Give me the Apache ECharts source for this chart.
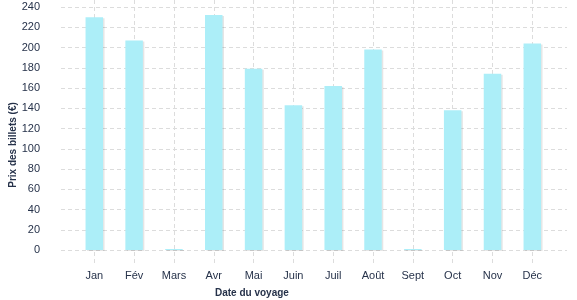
<!DOCTYPE html>
<html><head><meta charset="utf-8">
<script src="https://cdn.jsdelivr.net/npm/echarts@6/dist/echarts.min.js"></script>
<style>html,body{margin:0;padding:0;background:#fff}#c{width:577px;height:300px}</style>
</head><body><div id="c"></div>
<script>
const categories = ['Jan','Fév','Mars','Avr','Mai','Juin','Juil','Août','Sept','Oct','Nov','Déc'];
const prices = [230, 207, 1, 232, 179, 143, 162, 198, 1, 138, 174, 204];
const yTicks = [0, 240, 20]; // min, max, interval
const xTitle = 'Date du voyage';
const yTitle = 'Prix des billets (€)';

const font = 'Liberation Sans, Arial, sans-serif';
const textColor = '#26324a';
const gridColor = '#dcdcdc';
// pixel scale shared by both grids: 243px for 240 units
const pxPerUnit = 243 / 240;
const chart = echarts.init(document.getElementById('c'));
chart.setOption({
  animation: false,
  grid: [
    {left: 61, right: 10, top: 7, bottom: 50},
    {left: 94.3, width: 438, top: 0, bottom: 35}
  ],
  xAxis: [
    {gridIndex: 0, type: 'category', data: [], show: false},
    {gridIndex: 1, type: 'category', data: categories, boundaryGap: false,
     axisLine: {show: false}, axisTick: {show: false},
     axisLabel: {color: textColor, fontFamily: font, fontSize: 11, margin: 5},
     splitLine: {show: true, lineStyle: {color: gridColor, type: [4, 3], width: 1}}}
  ],
  yAxis: [
    {gridIndex: 0, type: 'value', min: yTicks[0], max: yTicks[1], interval: yTicks[2],
     axisLine: {show: false}, axisTick: {show: false},
     axisLabel: {color: textColor, fontFamily: font, fontSize: 11, margin: 21},
     splitLine: {show: true, lineStyle: {color: gridColor, type: [4, 3], width: 1}}},
    {gridIndex: 1, type: 'value', min: -15 / pxPerUnit, max: 250 / pxPerUnit, show: false,
     splitLine: {show: false}}
  ],
  series: [{
    type: 'bar', xAxisIndex: 1, yAxisIndex: 1, data: prices, barWidth: 17.5, clip: false,
    itemStyle: {color: '#aceef8', shadowColor: 'rgba(0,0,0,0.1)', shadowOffsetX: 1.5, shadowOffsetY: 1, shadowBlur: 0}
  }],
  graphic: [
    {type: 'text', left: 215, top: 288,
     style: {text: xTitle, fill: textColor, font: 'bold 10px ' + font}},
    {type: 'text', x: 13, y: 145, rotation: Math.PI / 2,
     style: {text: yTitle, fill: textColor, font: 'bold 10px ' + font, align: 'center', verticalAlign: 'middle'}}
  ]
});
</script></body></html>
